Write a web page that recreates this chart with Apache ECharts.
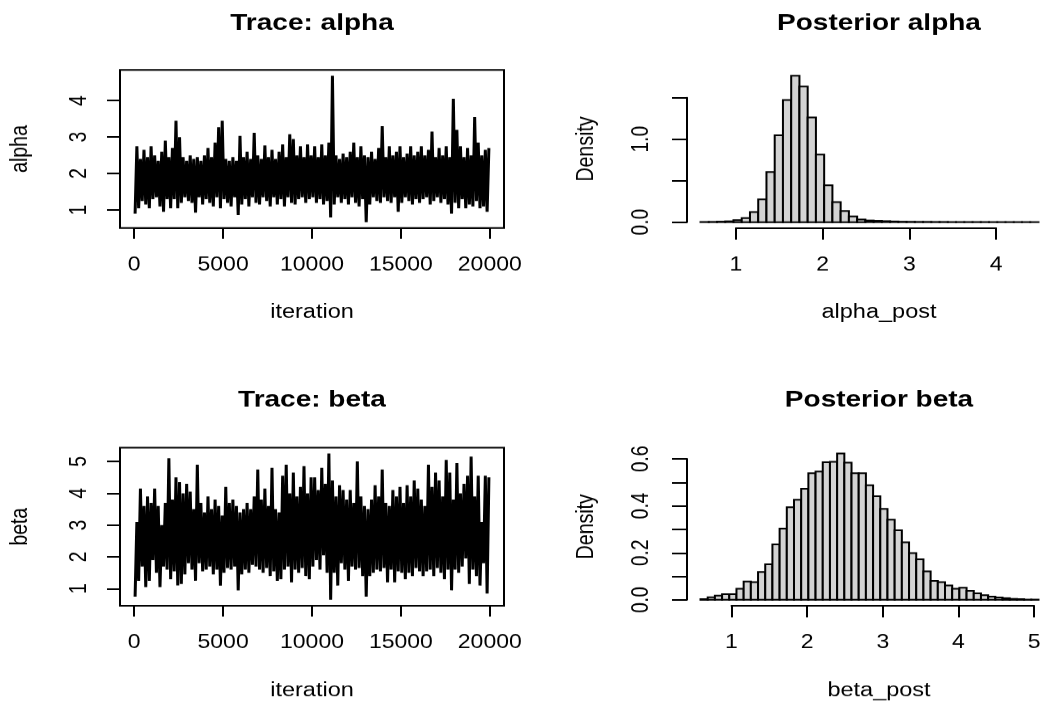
<!DOCTYPE html>
<html>
<head>
<meta charset="utf-8">
<title>MCMC trace and posterior</title>
<script src="https://cdn.jsdelivr.net/npm/echarts@6.0.0/dist/echarts.min.js"></script>
<style>
  html, body { margin: 0; padding: 0; width: 1052px; height: 702px; overflow: hidden; background: #fff; }
  #frame { width: 1052px; height: 702px; overflow: hidden; }
  /* the figure is laid out on a taller canvas and squeezed vertically */
  #chart { width: 1052px; height: 846px; transform: scaleY(0.829787); transform-origin: 0 0; }
</style>
</head>
<body>
<div id="frame"><div id="chart"></div></div>
<script>
// ---- chain summaries: lowest / highest draw in each block of 200 iterations ----
const TRACE_BIN = 200;
const ITER_FIRST = 1;
const ITER_LAST = 20000;

const alphaTraceHigh = [
  2.75, 2.4, 2.65, 2.45, 2.75, 2.5, 2.35, 2.6, 2.9, 2.45,
  2.7, 3.45, 3.0, 2.45, 2.35, 2.5, 2.4, 2.45, 2.35, 2.5,
  2.7, 2.45, 2.85, 3.27, 3.45, 2.4, 2.35, 2.45, 2.35, 3.03,
  2.45, 2.6, 2.4, 3.12, 2.5, 2.4, 2.77, 2.45, 2.65, 2.4,
  2.6, 2.8, 2.45, 3.08, 2.95, 2.5, 2.75, 2.45, 2.8, 2.5,
  2.75, 2.45, 2.8, 2.5, 2.85, 4.68, 2.5, 2.4, 2.55, 2.45,
  2.6, 2.85, 2.45, 2.75, 2.5, 2.45, 2.6, 2.4, 2.7, 3.3,
  2.45, 2.75, 2.5, 2.6, 2.75, 2.45, 2.55, 2.75, 2.5, 2.6,
  2.75, 2.5, 2.65, 3.15, 2.45, 2.7, 2.5, 2.75, 2.45, 4.05,
  3.2, 2.75, 2.45, 2.7, 2.5, 3.55, 2.85, 2.5, 2.65, 2.7
];
const alphaTraceLow = [
  0.9, 1.05, 1.25, 1.15, 1.05, 1.3, 1.35, 1.1, 0.95, 1.3,
  1.05, 1.3, 1.05, 1.2, 1.35, 1.25, 1.2, 0.93, 1.35, 1.15,
  1.3, 1.2, 1.1, 1.35, 1.05, 1.3, 1.2, 1.1, 1.35, 0.87,
  1.15, 1.3, 1.1, 1.35, 1.2, 1.15, 1.35, 1.25, 1.1, 1.35,
  1.15, 1.3, 1.1, 1.35, 1.2, 1.15, 1.3, 1.35, 1.2, 1.3,
  1.35, 1.2, 1.3, 1.15, 1.25, 0.8, 1.15, 1.35, 1.2, 1.3,
  1.15, 1.35, 1.2, 1.1, 1.3, 0.67, 1.15, 1.35, 1.25, 1.2,
  1.35, 1.25, 1.2, 1.35, 0.95, 1.2, 1.35, 1.25, 1.15, 1.3,
  1.2, 1.3, 1.35, 1.15, 1.25, 1.35, 1.2, 1.3, 1.15, 0.9,
  1.2, 1.05, 1.3, 1.05, 1.15, 1.1, 1.25, 1.05, 1.1, 0.95
];
const betaTraceHigh = [
  3.1, 4.15, 3.6, 3.9, 3.7, 4.15, 3.6, 3.0, 3.7, 5.1,
  3.8, 4.5, 4.35, 4.0, 4.3, 4.05, 3.5, 4.9, 3.7, 3.4,
  3.9, 3.5, 3.8, 3.6, 3.3, 4.2, 3.7, 3.8, 3.6, 3.4,
  3.5, 3.7, 3.5, 3.9, 4.75, 3.8, 4.15, 3.6, 4.8, 3.5,
  3.4, 4.55, 4.9, 4.0, 4.65, 3.9, 4.2, 4.85, 4.0, 4.5,
  4.5, 4.1, 4.8, 4.3, 5.25, 4.4, 3.9, 4.25, 4.1, 3.8,
  4.1, 3.7, 5.0, 3.9, 3.6, 3.5, 3.8, 4.25, 3.9, 4.75,
  3.7, 3.6, 4.1, 3.9, 4.2, 3.7, 4.25, 3.9, 4.4, 4.15,
  3.8, 3.6, 4.9, 4.2, 4.65, 4.4, 3.9, 5.05, 4.65, 3.8,
  4.95, 4.0, 4.3, 4.55, 5.15, 3.9, 4.55, 3.1, 4.55, 4.5
];
const betaTraceLow = [
  0.75, 1.25, 1.7, 1.05, 1.25, 1.9, 1.5, 1.05, 1.7, 1.6,
  1.3, 1.55, 1.1, 1.15, 1.45, 1.8, 1.6, 1.25, 1.8, 1.55,
  1.6, 1.7, 1.45, 1.6, 1.1, 1.5, 1.65, 1.6, 1.7, 0.95,
  1.45, 1.6, 1.5, 1.75, 1.7, 1.6, 1.5, 1.65, 1.4, 1.55,
  1.25, 1.3, 1.6, 1.7, 1.2, 1.6, 1.5, 1.65, 1.4, 1.3,
  1.7, 1.9, 1.6, 2.05, 1.5, 0.65, 1.5, 1.1, 1.8, 1.6,
  1.25, 1.7, 1.6, 1.65, 1.4, 0.75, 1.4, 1.5, 1.6, 1.55,
  1.65, 1.2, 1.6, 1.2, 1.55, 1.5, 1.3, 1.5, 1.4, 1.65,
  1.55, 1.4, 1.55, 1.6, 1.4, 1.65, 1.5, 1.3, 1.6, 0.95,
  1.6, 1.5, 1.7, 1.95, 1.15, 1.6, 1.4, 1.1, 1.8, 0.85
];

// ---- histogram densities (bin width 0.1) ----
const HIST_WIDTH = 0.1;
const alphaHistStart = 0.6;
const alphaDensity = [
  0.002, 0.003, 0.006, 0.010, 0.024, 0.048, 0.121, 0.274, 0.605, 1.048,
  1.472, 1.765, 1.637, 1.262, 0.815, 0.444, 0.242, 0.133, 0.069, 0.032,
  0.020, 0.016, 0.012, 0.008, 0.005, 0.004, 0.003, 0.003, 0.002, 0.002,
  0.001, 0.001, 0.001, 0.001, 0.001, 0.0005, 0.0005, 0.0005, 0.0005, 0.0005,
  0.0005
];
const betaHistStart = 0.6;
const betaDensity = [
  0.003, 0.011, 0.018, 0.024, 0.024, 0.047, 0.078, 0.075, 0.119, 0.151,
  0.236, 0.303, 0.394, 0.426, 0.473, 0.539, 0.546, 0.586, 0.588, 0.623,
  0.584, 0.539, 0.539, 0.488, 0.441, 0.387, 0.341, 0.296, 0.245, 0.199,
  0.173, 0.121, 0.081, 0.075, 0.061, 0.047, 0.052, 0.038, 0.028, 0.020,
  0.014, 0.010, 0.007, 0.004, 0.003, 0.001, 0.001
];

// ---- axis ticks and labels ----
const iterationTicks = [0, 5000, 10000, 15000, 20000];
const alphaTicks = [1, 2, 3, 4];
const betaTicks = [1, 2, 3, 4, 5];
const alphaPostTicks = [1, 2, 3, 4];
const betaPostTicks = [1, 2, 3, 4, 5];
const alphaDensityTicks = [0, 0.5, 1.0, 1.5];
const alphaDensityLabels = ['0.0', '1.0'];
const betaDensityTicks = [0, 0.1, 0.2, 0.3, 0.4, 0.5, 0.6];
const betaDensityLabels = ['0.0', '0.2', '0.4', '0.6'];

const titles = ['Trace: alpha', 'Posterior alpha', 'Trace: beta', 'Posterior beta'];
const xNames = ['iteration', 'alpha_post', 'iteration', 'beta_post'];
const yNames = ['alpha', 'Density', 'beta', 'Density'];

// ---- layout (canvas pixels before the vertical squeeze) ----
const FONT = "'Liberation Sans', Arial, Helvetica, sans-serif";
const INK = '#000';
const BAR_FILL = '#d3d3d3';
const LINE = { color: INK, width: 2 };
const TRACE_LINE_WIDTH = 3;
const COL_LEFT = [120, 687];
const ROW_TOP = [84.3, 539.5];
const PLOT_W = 384;
const PLOT_H = 190.4;

function rRange(lo, hi) { const d = (hi - lo) * 0.04; return [lo - d, hi + d]; }
function box(col, row) { return { left: COL_LEFT[col], top: ROW_TOP[row], width: PLOT_W, height: PLOT_H }; }

const grids = [], xAxes = [], yAxes = [], series = [];
function addGrid(rect, xOpt, yOpt) {
  const i = grids.length;
  grids.push(Object.assign({ containLabel: false, show: false }, rect));
  xAxes.push(Object.assign({ type: 'value', gridIndex: i, show: false, min: 0, max: 1 }, xOpt));
  yAxes.push(Object.assign({ type: 'value', gridIndex: i, show: false, min: 0, max: 1 }, yOpt));
  return i;
}

function plainLabel(v) { return String(v); }
function pickLabels(list) {
  return function (v) { const s = v.toFixed(1); return list.indexOf(s) >= 0 ? s : ''; };
}

// x axis drawn from the first to the last tick only
function decoX(b, xr, ticks, fmt, tickLen) {
  const k = b.width / (xr[1] - xr[0]);
  const a = ticks[0], z = ticks[ticks.length - 1];
  addGrid({ left: b.left + (a - xr[0]) * k, width: (z - a) * k, top: b.top, height: b.height }, {
    show: true, min: a, max: z, interval: ticks[1] - ticks[0], position: 'bottom',
    axisLine: { show: true, onZero: false, lineStyle: LINE },
    axisTick: { show: true, length: tickLen, lineStyle: LINE },
    axisLabel: { show: true, margin: 33, fontSize: 23, fontFamily: FONT, color: INK, formatter: fmt,
                 showMinLabel: true, showMaxLabel: true },
    splitLine: { show: false }
  }, {});
}
// y axis drawn from the first to the last tick only, labels read upwards
function decoY(b, yr, ticks, fmt, tickLen, margin) {
  const k = b.height / (yr[1] - yr[0]);
  const a = ticks[0], z = ticks[ticks.length - 1];
  addGrid({ left: b.left, width: b.width, top: b.top + (yr[1] - z) * k, height: (z - a) * k }, {}, {
    show: true, min: a, max: z, interval: +(ticks[1] - ticks[0]).toFixed(6), position: 'left',
    axisLine: { show: true, onZero: false, lineStyle: LINE },
    axisTick: { show: true, length: tickLen, lineStyle: LINE },
    axisLabel: { show: true, rotate: 90, margin: margin, fontSize: 23, fontFamily: FONT, color: INK,
                 formatter: fmt, showMinLabel: true, showMaxLabel: true },
    splitLine: { show: false }
  });
}

function tracePanel(col, row, low, high, yTicks) {
  const b = box(col, row);
  const xr = rRange(ITER_FIRST, ITER_LAST);
  const yr = rRange(Math.min.apply(null, low), Math.max.apply(null, high));
  const gi = addGrid(Object.assign({}, b, { show: true, borderColor: INK, borderWidth: 2, backgroundColor: 'transparent' }),
                     { min: xr[0], max: xr[1] }, { min: yr[0], max: yr[1] });
  const pts = [];
  for (let i = 0; i < low.length; i++) {
    pts.push([i * TRACE_BIN + 50, low[i]]);
    pts.push([i * TRACE_BIN + 150, high[i]]);
  }
  series.push({
    type: 'line', xAxisIndex: gi, yAxisIndex: gi, data: pts, symbol: 'none', showSymbol: false,
    sampling: null, progressive: 0,
    lineStyle: { color: INK, width: TRACE_LINE_WIDTH, join: 'bevel' }, silent: true, clip: true, z: 3
  });
  decoX(b, xr, iterationTicks, plainLabel, 13);
  decoY(b, yr, yTicks, plainLabel, 13, 29);
}

function histPanel(col, row, start, dens, xTicks, yTicks, yLabels) {
  const b = box(col, row);
  const end = +(start + dens.length * HIST_WIDTH).toFixed(2);
  const xr = rRange(start, end);
  const yr = rRange(0, Math.max.apply(null, dens));
  const gi = addGrid(b, { min: xr[0], max: xr[1] }, { min: yr[0], max: yr[1] });
  const bins = dens.map(function (d, i) {
    return [+(start + i * HIST_WIDTH).toFixed(2), +(start + (i + 1) * HIST_WIDTH).toFixed(2), d];
  });
  series.push({
    type: 'custom', xAxisIndex: gi, yAxisIndex: gi, data: bins, silent: true, clip: false,
    encode: { x: [0, 1], y: 2 },
    renderItem: function (params, api) {
      const p0 = api.coord([api.value(0), api.value(2)]);
      const p1 = api.coord([api.value(1), 0]);
      return {
        type: 'rect',
        shape: { x: p0[0], y: p0[1], width: p1[0] - p0[0], height: p1[1] - p0[1] },
        style: { fill: BAR_FILL, stroke: INK, lineWidth: 2 }
      };
    }
  });
  decoX(b, xr, xTicks, plainLabel, 14);
  decoY(b, yr, yTicks, pickLabels(yLabels), 15, 34);
}

tracePanel(0, 0, alphaTraceLow, alphaTraceHigh, alphaTicks);
histPanel(1, 0, alphaHistStart, alphaDensity, alphaPostTicks, alphaDensityTicks, alphaDensityLabels);
tracePanel(0, 1, betaTraceLow, betaTraceHigh, betaTicks);
histPanel(1, 1, betaHistStart, betaDensity, betaPostTicks, betaDensityTicks, betaDensityLabels);

// ---- titles and axis names ----
function label(text, x, y, size, bold, rotation) {
  return {
    type: 'text', x: x, y: y, rotation: rotation || 0, silent: true,
    style: { text: text, fontSize: size, fontWeight: bold ? 'bold' : 'normal', fontFamily: FONT, fill: INK,
             align: 'center', verticalAlign: 'middle', textAlign: 'center', textVerticalAlign: 'middle' }
  };
}
const TITLE_Y = [28.5, 482.3];
const XNAME_Y = [376.7, 832.2];
const YNAME_X = [20.5, 586.2];
const graphics = [];
for (let r = 0; r < 2; r++) {
  for (let c = 0; c < 2; c++) {
    const k = r * 2 + c;
    const cx = COL_LEFT[c] + PLOT_W / 2;
    const cy = ROW_TOP[r] + PLOT_H / 2;
    graphics.push(label(titles[k], cx, TITLE_Y[r], 28, true));
    graphics.push(label(xNames[k], cx, XNAME_Y[r], 23.5, false));
    graphics.push(label(yNames[k], YNAME_X[c], cy, 23.5, false, Math.PI / 2));
  }
}

const chart = echarts.init(document.getElementById('chart'), null, { renderer: 'canvas', devicePixelRatio: 1 });
chart.setOption({
  animation: false,
  backgroundColor: '#fff',
  grid: grids,
  xAxis: xAxes,
  yAxis: yAxes,
  series: series,
  graphic: graphics
});
</script>
</body>
</html>
